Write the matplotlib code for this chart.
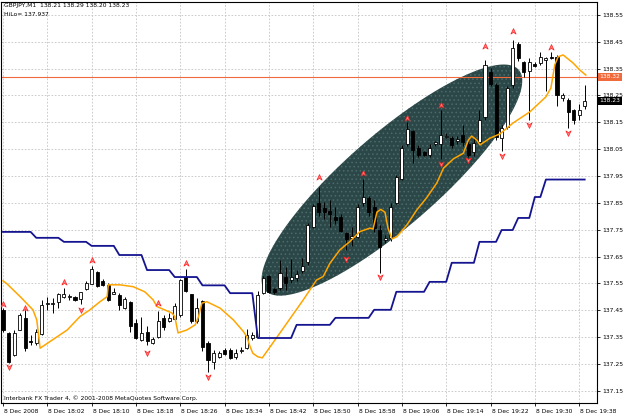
import numpy as np
import matplotlib
matplotlib.use("Agg")
import matplotlib.pyplot as plt
from matplotlib.path import Path
from matplotlib.patches import Polygon
import matplotlib.transforms as mtransforms

# GBPJPY M1 candles, 8 Dec 2008 17:54 .. 19:39
opens = [137.45, 137.365, 137.284, 137.378, 137.421, 137.337, 137.328, 137.361, 137.474, 137.475,
         137.481, 137.50, 137.501, 137.50, 137.494, 137.53, 137.549, 137.593, 137.559, 137.546,
         137.511, 137.506, 137.459, 137.48, 137.402, 137.34, 137.371, 137.33, 137.35, 137.421,
         137.409, 137.416, 137.434, 137.575, 137.509, 137.409, 137.484, 137.33, 137.259, 137.277,
         137.302, 137.302, 137.277, 137.30, 137.309, 137.346, 137.352, 137.514, 137.578, 137.53,
         137.532, 137.573, 137.562, 137.572, 137.598, 137.631, 137.761, 137.851, 137.83, 137.82,
         137.799, 137.799, 137.737, 137.718, 137.722, 137.851, 137.867, 137.836, 137.749, 137.712,
         137.718, 137.85, 137.939, 138.069, 138.119, 138.056, 138.041, 138.029, 138.069, 138.069,
         138.095, 138.09, 138.08, 138.103, 138.068, 138.04, 138.076, 138.17, 138.338, 138.29,
         138.093, 138.134, 138.29, 138.441, 138.376, 138.342, 138.366, 138.37, 138.382, 138.395,
         138.395, 138.24, 138.234, 138.197, 138.179, 138.21]
highs = [137.46, 137.37, 137.377, 137.44, 137.45, 137.36, 137.38, 137.49, 137.50, 137.495,
         137.515, 137.534, 137.51, 137.505, 137.52, 137.559, 137.615, 137.596, 137.567, 137.55,
         137.534, 137.515, 137.50, 137.484, 137.417, 137.427, 137.39, 137.35, 137.446, 137.434,
         137.44, 137.477, 137.567, 137.605, 137.512, 137.496, 137.49, 137.337, 137.302, 137.30,
         137.309, 137.309, 137.305, 137.312, 137.38, 137.371, 137.521, 137.577, 137.582, 137.535,
         137.638, 137.613, 137.641, 137.60, 137.645, 137.775, 137.845, 137.911, 137.855, 137.86,
         137.836, 137.81, 137.743, 137.76, 137.845, 137.94, 137.875, 137.86, 137.767, 137.73,
         137.85, 137.955, 138.065, 138.15, 138.122, 138.066, 138.045, 138.07, 138.08, 138.196,
         138.11, 138.10, 138.10, 138.14, 138.08, 138.09, 138.195, 138.383, 138.353, 138.297,
         138.14, 138.285, 138.457, 138.45, 138.38, 138.389, 138.375, 138.41, 138.395, 138.41,
         138.40, 138.26, 138.24, 138.20, 138.22, 138.29]
lows = [137.37, 137.255, 137.28, 137.375, 137.30, 137.32, 137.32, 137.36, 137.45, 137.44,
        137.46, 137.497, 137.49, 137.486, 137.475, 137.527, 137.547, 137.536, 137.54, 137.484,
        137.509, 137.452, 137.455, 137.371, 137.342, 137.334, 137.321, 137.325, 137.346, 137.377,
        137.405, 137.414, 137.427, 137.517, 137.402, 137.402, 137.30, 137.221, 137.23, 137.271,
        137.284, 137.267, 137.267, 137.29, 137.305, 137.34, 137.346, 137.51, 137.515, 137.51,
        137.526, 137.526, 137.55, 137.56, 137.59, 137.62, 137.755, 137.80, 137.79, 137.76,
        137.77, 137.74, 137.675, 137.69, 137.72, 137.84, 137.80, 137.74, 137.59, 137.70,
        137.71, 137.845, 137.935, 138.06, 138.0, 138.02, 138.025, 138.02, 138.06, 138.015,
        138.09, 138.055, 138.07, 138.06, 138.02, 138.025, 138.07, 138.16, 138.286, 138.085,
        138.045, 138.125, 138.278, 138.38, 138.32, 138.16, 138.355, 138.365, 138.265, 138.385,
        138.21, 138.23, 138.128, 138.145, 138.16, 138.20]
closes = [137.375, 137.259, 137.365, 137.434, 137.309, 137.333, 137.371, 137.471, 137.476, 137.478,
          137.509, 137.509, 137.503, 137.489, 137.517, 137.552, 137.603, 137.54, 137.546, 137.49,
          137.52, 137.469, 137.494, 137.39, 137.346, 137.365, 137.337, 137.342, 137.411, 137.387,
          137.421, 137.467, 137.562, 137.521, 137.409, 137.459, 137.315, 137.265, 137.29, 137.292,
          137.287, 137.271, 137.292, 137.302, 137.359, 137.359, 137.507, 137.57, 137.52, 137.52,
          137.588, 137.551, 137.575, 137.584, 137.615, 137.768, 137.839, 137.817, 137.817, 137.81,
          137.786, 137.747, 137.715, 137.727, 137.836, 137.873, 137.817, 137.755, 137.687, 137.72,
          137.836, 137.948, 138.056, 138.126, 138.048, 138.029, 138.029, 138.056, 138.076, 138.101,
          138.10, 138.065, 138.088, 138.076, 138.029, 138.072, 138.159, 138.364, 138.293, 138.096,
          138.13, 138.277, 138.427, 138.389, 138.339, 138.376, 138.36, 138.395, 138.389, 138.389,
          138.252, 138.252, 138.19, 138.16, 138.197, 138.23]

# orange average line (vertices at bar positions)
ma_x = [0, 0.7, 3.1, 5.4, 6.1, 6.7, 8.5, 11.6, 13.9, 15.7, 17.5, 18.8, 19.0, 21.1, 23.5, 25.6,
        27.1, 27.8, 30.5, 31.0, 31.6, 33.2, 34.7, 35.3, 35.9, 36.8, 39.2, 41.6, 43.4, 44.0, 44.6,
        45.1, 46.0, 46.8, 50.0, 54.2, 56.6, 57.8, 59.0, 60.8, 62.6, 64.4, 66.2, 66.8, 67.5, 68.2,
        68.95, 69.5, 70.2, 71.1, 72.9, 74.7, 76.5, 78.3, 79.5, 81.3, 83.1, 84.0, 84.6, 85.5, 86.1,
        87.9, 89.7, 92.1, 95.1, 98.0, 98.9, 99.6, 100.2, 101.1, 102.9, 104.1, 105.2]
ma_y = [137.560, 137.549, 137.501, 137.452, 137.414, 137.309, 137.334, 137.377, 137.427, 137.452,
        137.482, 137.501, 137.545, 137.545, 137.538, 137.519, 137.489, 137.464, 137.44, 137.427,
        137.366, 137.377, 137.396, 137.427, 137.477, 137.482, 137.458, 137.414, 137.371, 137.352,
        137.315, 137.29, 137.277, 137.273, 137.366, 137.489, 137.563, 137.576, 137.625, 137.675,
        137.706, 137.743, 137.756, 137.753, 137.816, 137.826, 137.815, 137.756, 137.716, 137.724,
        137.768, 137.824, 137.87, 137.924, 137.979, 138.014, 138.035, 138.084, 138.099, 138.084,
        138.066, 138.091, 138.107, 138.148, 138.189, 138.245, 138.278, 138.364, 138.394, 138.401,
        138.371, 138.345, 138.326]

# HiLo indicator (navy), value changes at these bars
hilo_x = [0, 5, 6, 10, 11, 15, 16, 20, 21, 25, 26, 30, 31, 35, 36, 40, 41, 45, 46, 52, 53, 59,
          60, 66, 67, 70, 71, 76, 77, 80, 81, 85, 86, 89, 90, 92, 93, 95, 96, 97, 98, 105]
hilo_y = [137.742, 137.742, 137.72, 137.72, 137.705, 137.705, 137.69, 137.69, 137.656, 137.656,
          137.60, 137.60, 137.574, 137.574, 137.543, 137.543, 137.514, 137.514, 137.347, 137.347,
          137.396, 137.396, 137.422, 137.422, 137.452, 137.452, 137.519, 137.519, 137.556, 137.556,
          137.627, 137.627, 137.705, 137.705, 137.749, 137.749, 137.794, 137.794, 137.872, 137.872,
          137.937, 137.937]

# fractal arrows
up_bars = [0, 4, 11, 16, 28, 33, 57, 65, 73, 79, 87, 92, 99]
up_vals = [137.473, 137.46, 137.557, 137.638, 137.477, 137.625, 137.948, 137.963, 138.165,
           138.215, 138.434, 138.489, 138.432]
dn_bars = [1, 14, 26, 37, 62, 68, 79, 84, 90, 95, 102]
dn_vals = [137.24, 137.452, 137.29, 137.203, 137.64, 137.574, 137.995, 138.01, 138.023,
           138.14, 138.11]

yticks = [137.15, 137.25, 137.35, 137.45, 137.55, 137.65, 137.75, 137.85, 137.95, 138.05,
          138.15, 138.25, 138.35, 138.45, 138.55]
xtick_bars = [0, 8, 16, 24, 32, 40, 48, 56, 64, 72, 80, 88, 96, 104]
xtick_labels = ["8 Dec 2008", "8 Dec 18:02", "8 Dec 18:10", "8 Dec 18:18", "8 Dec 18:26",
                "8 Dec 18:34", "8 Dec 18:42", "8 Dec 18:50", "8 Dec 18:58", "8 Dec 19:06",
                "8 Dec 19:14", "8 Dec 19:22", "8 Dec 19:30", "8 Dec 19:38"]
level_line = 138.32
bid = 138.23

# ellipse drawn on the chart (centre in bar/price, sizes in screen pixels)
ell_center = (70.2, 137.935)
ell_a, ell_b, ell_angle = 168, 46, 41

W, H = 625, 417
fs = 4.3
plt.rcParams['font.family'] = 'DejaVu Sans'
plt.rcParams['hatch.linewidth'] = 0.6
fig = plt.figure(figsize=(W / 100, H / 100), dpi=100)
ax = fig.add_axes([1.5 / W, 1 - 403 / H, (597 - 1.5) / W, (403 - 2) / H])
ax.set_xlim(-0.27, 107.22)
ax.set_ylim(137.105, 138.598)

# grid
ax.set_yticks(yticks)
ax.set_xticks(xtick_bars)
ax.grid(True, color='#c4c4c4', linestyle=(0, (2, 2)), linewidth=0.6)
ax.set_axisbelow(True)

# ellipse: build polygon in pixels and map back to data
fig.canvas.draw()
p0 = ax.transData.transform((0, 137.5))
p1 = ax.transData.transform((1, 138.5))
sx = p1[0] - p0[0]
sy = p1[1] - p0[1]
t = np.linspace(0, 2 * np.pi, 200)
th = np.deg2rad(ell_angle)
ex = ell_a * np.cos(t) * np.cos(th) - ell_b * np.sin(t) * np.sin(th)
ey = ell_a * np.cos(t) * np.sin(th) + ell_b * np.sin(t) * np.cos(th)
pts = np.column_stack([ell_center[0] + ex / sx, ell_center[1] + ey / sy])
ax.add_patch(Polygon(pts, closed=True, facecolor='#2b4747', edgecolor='#4d6b6b',
                     hatch='....', linewidth=0, zorder=1))

# level line
ax.axhline(level_line, color='#f06a3c', linewidth=0.8, zorder=2)

# candles
o = np.array(opens); c = np.array(closes); h = np.array(highs); l = np.array(lows)
xs = np.arange(len(o))
ax.vlines(xs, l, h, color='black', linewidth=0.7, zorder=3)
up = c >= o
bw = 0.55
ax.bar(xs[up], np.maximum(c[up] - o[up], 0.002), bottom=o[up], width=bw,
       facecolor='white', edgecolor='black', linewidth=0.6, zorder=4)
ax.bar(xs[~up], np.maximum(o[~up] - c[~up], 0.002), bottom=c[~up], width=bw,
       facecolor='black', edgecolor='black', linewidth=0.6, zorder=4)

# indicator lines
ax.plot(ma_x, ma_y, color='#ffa500', linewidth=1.1, zorder=5)
ax.plot(hilo_x, hilo_y, color='#141490', linewidth=1.3, zorder=5)

# fractal arrows
up_arrow = Path([(0, 1), (0.9, -0.9), (0, -0.3), (-0.9, -0.9), (0, 1)],
                [Path.MOVETO, Path.LINETO, Path.LINETO, Path.LINETO, Path.CLOSEPOLY])
dn_arrow = Path([(0, -1), (0.9, 0.9), (0, 0.3), (-0.9, 0.9), (0, -1)],
                [Path.MOVETO, Path.LINETO, Path.LINETO, Path.LINETO, Path.CLOSEPOLY])
ax.plot(up_bars, up_vals, linestyle='none', marker=up_arrow, markersize=4.2,
        markerfacecolor='#ff8080', markeredgecolor='#ff2020', markeredgewidth=0.5, zorder=6)
ax.plot(dn_bars, dn_vals, linestyle='none', marker=dn_arrow, markersize=4.2,
        markerfacecolor='#ff8080', markeredgecolor='#ff2020', markeredgewidth=0.5, zorder=6)

# axes styling
for s in ax.spines.values():
    s.set_color('black')
    s.set_linewidth(0.8)
ax.yaxis.tick_right()
ax.tick_params(axis='y', direction='out', length=2, width=0.6, pad=1.5, labelsize=fs)
ax.tick_params(axis='x', direction='out', length=2.5, width=0.6, pad=2, labelsize=fs)
ax.set_yticklabels(["%.2f" % v for v in yticks])
ax.set_xticklabels(xtick_labels, ha='left')
for lab in ax.get_xticklabels():
    lab.set_transform(lab.get_transform() + mtransforms.ScaledTranslation(1 / 100, 0, fig.dpi_scale_trans))

# price labels on the axis
tr = mtransforms.blended_transform_factory(ax.transAxes, ax.transData)
ax.text(1.004, level_line, "%.2f" % level_line, transform=tr, fontsize=fs, color='white',
        va='center', ha='left', clip_on=False, zorder=7,
        bbox=dict(boxstyle='square,pad=0.25', facecolor='#f06a3c', edgecolor='none'))
ax.text(1.004, bid, "%.2f" % bid, transform=tr, fontsize=fs, color='white',
        va='center', ha='left', clip_on=False, zorder=7,
        bbox=dict(boxstyle='square,pad=0.25', facecolor='black', edgecolor='none'))

# header and footer text
fig.text(4 / W, 1 - 6 / H, "GBPJPY,M1  138.21 138.29 138.20 138.23", fontsize=fs, va='center')
fig.text(4 / W, 1 - 14.5 / H, "HiLo= 137.937", fontsize=fs, va='center')
fig.text(4 / W, 1 - 398 / H, "Interbank FX Trader 4, \u00a9 2001-2008 MetaQuotes Software Corp.",
         fontsize=fs, va='center')

fig.savefig("out.png", dpi=100, facecolor='white')
